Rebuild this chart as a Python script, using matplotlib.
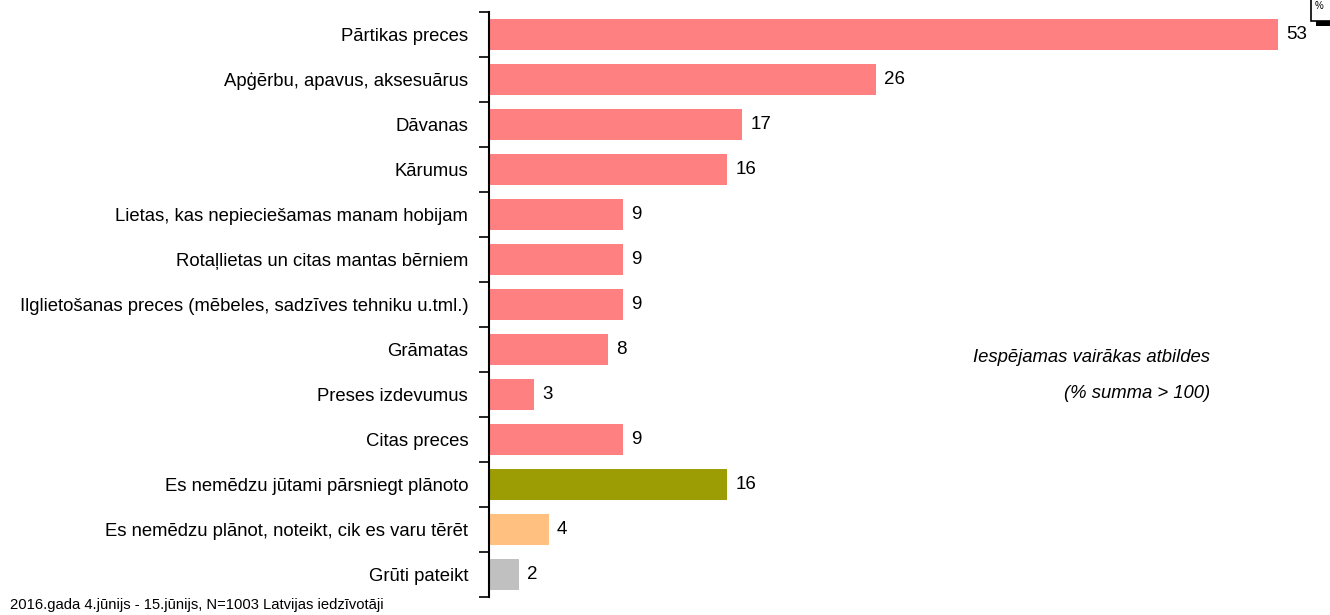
import matplotlib
matplotlib.use("Agg")
import matplotlib.pyplot as plt
from matplotlib.patches import Rectangle

plt.rcParams['font.family'] = ['Liberation Sans', 'DejaVu Sans']

categories = [
    "Pārtikas preces",
    "Apģērbu, apavus, aksesuārus",
    "Dāvanas",
    "Kārumus",
    "Lietas, kas nepieciešamas manam hobijam",
    "Rotaļlietas un citas mantas bērniem",
    "Ilglietošanas preces (mēbeles, sadzīves tehniku u.tml.)",
    "Grāmatas",
    "Preses izdevumus",
    "Citas preces",
    "Es nemēdzu jūtami pārsniegt plānoto",
    "Es nemēdzu plānot, noteikt, cik es varu tērēt",
    "Grūti pateikt",
]
values = [53, 26, 17, 16, 9, 9, 9, 8, 3, 9, 16, 4, 2]
colors = ["#FF8080"] * 10 + ["#9C9C05", "#FFC080", "#C0C0C0"]

fig = plt.figure(figsize=(13.3, 6.15), dpi=100)
ax = fig.add_axes([489/1330, 18/615, 1 - 489/1330, 585/615])

n = len(categories)
ypos = list(range(n))
ax.barh(ypos, values, height=0.71, color=colors, zorder=2)
ax.set_ylim(n - 0.5, -0.5)
ax.set_xlim(0, 53 * (1330 - 489) / (1278 - 489))

for y, v in zip(ypos, values):
    ax.text(v + 0.55, y, str(v), va='center', ha='left', fontsize=13.5, color='black')

ax.set_yticks(ypos)
ax.set_yticklabels(categories, fontsize=13.3)
ax.tick_params(axis='y', which='major', length=0, pad=15)
ax.set_yticks([i - 0.5 for i in range(n + 1)], minor=True)
ax.tick_params(axis='y', which='minor', length=7, width=1.2, direction='out')
ax.set_xticks([])
for s in ['top', 'right', 'bottom']:
    ax.spines[s].set_visible(False)
ax.spines['left'].set_linewidth(1.5)

fig.text(1210/1330, 1 - 358/615, "Iespējamas vairākas atbildes", ha='right', va='center',
         fontsize=13.3, style='italic')
fig.text(1210/1330, 1 - 393/615, "(% summa > 100)", ha='right', va='center',
         fontsize=13.3, style='italic')

fig.text(10/1330, 1 - 605/615, "2016.gada 4.jūnijs - 15.jūnijs, N=1003 Latvijas iedzīvotāji",
         ha='left', va='center', fontsize=10.6)

# small legend box at top-right (cropped in reference)
fig.patches.append(Rectangle((1316/1330, 1 - 26/615), 20/1330, 25/615, transform=fig.transFigure,
                             facecolor='black', edgecolor='none', zorder=3))
fig.patches.append(Rectangle((1311/1330, 1 - 21/615), 20/1330, 25/615, transform=fig.transFigure,
                             facecolor='white', edgecolor='black', linewidth=1.2, zorder=4))
fig.text(1315/1330, 1 - 1/615, "%", ha='left', va='top', fontsize=7, zorder=5)

fig.savefig("out.png", dpi=100)
